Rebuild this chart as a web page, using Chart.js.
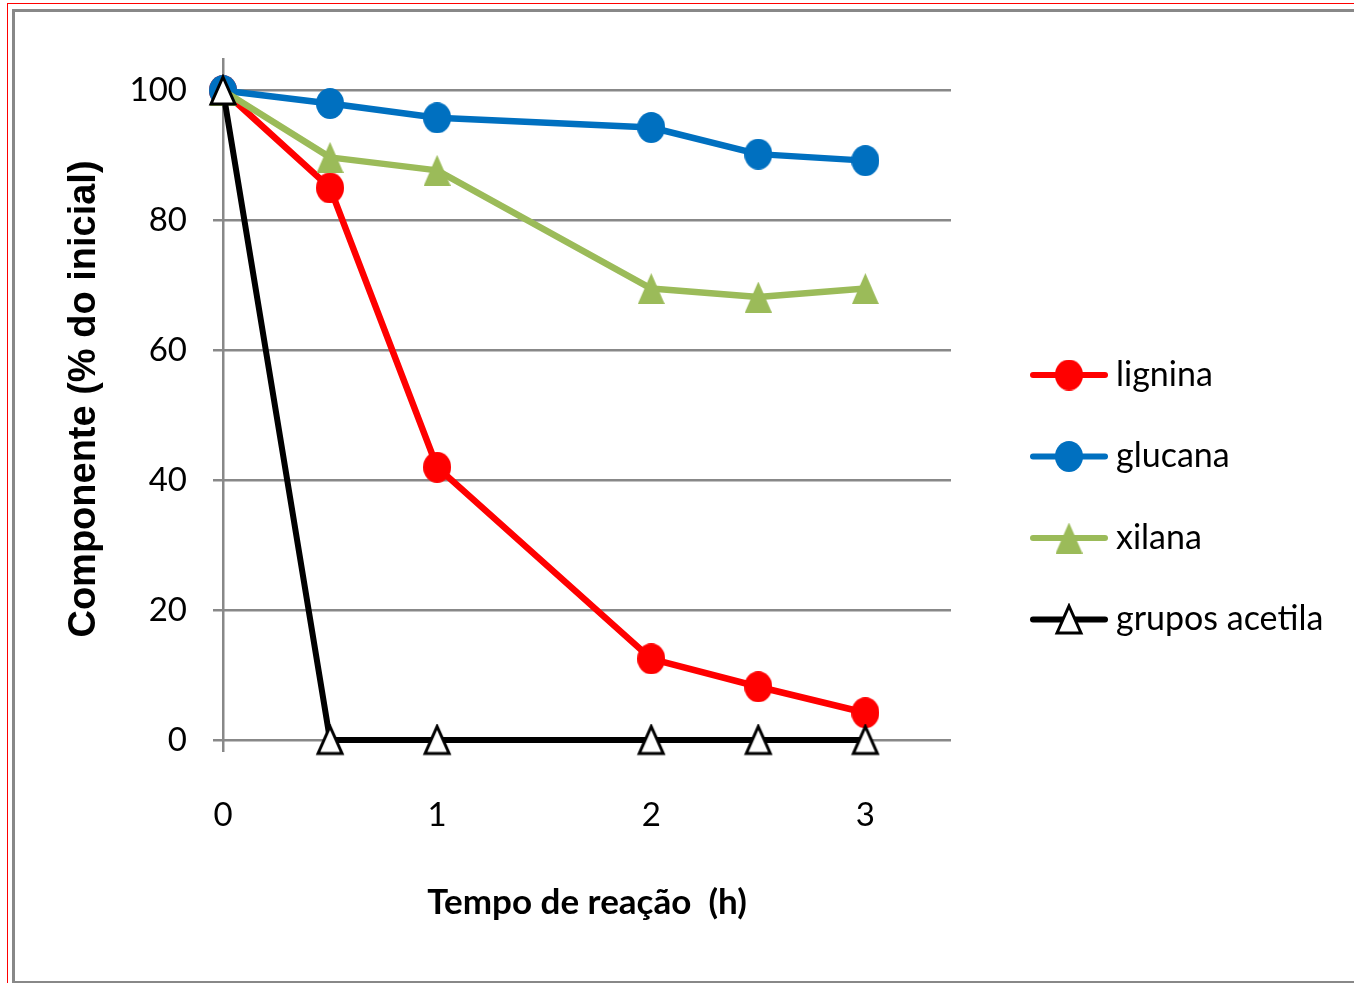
<!DOCTYPE html>
<html>
<head>
<meta charset="utf-8">
<script src="https://cdn.jsdelivr.net/npm/chart.js@4.4.0/dist/chart.umd.min.js"></script>
<style>
  html, body { margin: 0; padding: 0; background: #fff; overflow: hidden; }
  #wrap { position: relative; width: 1354px; height: 983px; }
  #redframe { position: absolute; left: 7px; top: 3px; width: 1400px; height: 1000px; border: 1.5px solid #ff0000; }
  #grayframe { position: absolute; left: 12px; top: 9px; width: 1400px; height: 969px; border: 3px solid #888888; }
  canvas { position: absolute; left: 0; top: 0; }
</style>
</head>
<body>
<div id="wrap">
  <div id="redframe"></div>
  <div id="grayframe"></div>
  <canvas id="grafico" width="1354" height="983"></canvas>
</div>
<script>
// tempos (h) e componentes (% do inicial)
const tempos = [0, 0.5, 1, 2, 2.5, 3];
const lignina = [100, 85, 42, 12.5, 8.2, 4.2];
const glucana = [100, 98, 95.8, 94.3, 90.2, 89.2];
const xilana = [100, 89.7, 87.7, 69.5, 68.2, 69.5];
const acetila = [100, 0, 0, 0, 0, 0];

const xTicks = [0, 1, 2, 3];
const yTicks = [0, 20, 40, 60, 80, 100];

const fonteTexto = "Lato, 'Open Sans', sans-serif";
const cinza = '#888888';

function pontos(valores) {
    return tempos.map((t, i) => ({ x: t, y: valores[i] }));
}

// marcadores (um pouco mais altos que largos, como no original)
function triangulo(w, h, fill, stroke, lw) {
    const c = document.createElement('canvas');
    c.width = w + lw * 2;
    c.height = h + lw * 2;
    const g = c.getContext('2d');
    g.beginPath();
    g.moveTo(c.width / 2, lw);
    g.lineTo(c.width - lw, c.height - lw);
    g.lineTo(lw, c.height - lw);
    g.closePath();
    g.fillStyle = fill;
    g.fill();
    if (stroke) {
        g.lineWidth = lw;
        g.strokeStyle = stroke;
        g.stroke();
    }
    return c;
}

function elipse(w, h, fill) {
    const c = document.createElement('canvas');
    c.width = w;
    c.height = h;
    const g = c.getContext('2d');
    g.beginPath();
    g.ellipse(w / 2, h / 2, w / 2, h / 2, 0, 0, Math.PI * 2);
    g.fillStyle = fill;
    g.fill();
    return c;
}

const circVermelho = elipse(28, 31, '#ff0000');
const circAzul = elipse(28, 31, '#0070c0');
const triVerde = triangulo(27, 31, '#9bbb59', null, 0);
const triBranco = triangulo(24, 27, '#ffffff', '#000000', 3);

// legenda desenhada ao lado
const legendaLateral = {
    id: 'legendaLateral',
    afterDraw(chart) {
        const ctx = chart.ctx;
        const sets = chart.data.datasets;
        ctx.save();
        sets.forEach((ds, i) => {
            const y = 375 + i * 81.5;
            ctx.beginPath();
            ctx.moveTo(1033, y);
            ctx.lineTo(1105, y);
            ctx.strokeStyle = ds.borderColor;
            ctx.lineWidth = 6;
            ctx.lineCap = 'round';
            ctx.stroke();
            const img = ds.pointStyle;
            ctx.drawImage(img, 1069 - img.width / 2, y - img.height / 2);
            ctx.fillStyle = '#000';
            ctx.font = '34px ' + fonteTexto;
            ctx.textBaseline = 'middle';
            ctx.fillText(ds.label, 1116, y);
        });
        ctx.restore();
    }
};

const ctx = document.getElementById('grafico').getContext('2d');
const myChart = new Chart(ctx, {
    type: 'line',
    data: {
        datasets: [{
            label: 'lignina',
            data: pontos(lignina),
            borderColor: '#ff0000',
            pointStyle: circVermelho,
            borderWidth: 6.5,
            order: 3
        }, {
            label: 'glucana',
            data: pontos(glucana),
            borderColor: '#0070c0',
            pointStyle: circAzul,
            borderWidth: 6.5,
            order: 2
        }, {
            label: 'xilana',
            data: pontos(xilana),
            borderColor: '#9bbb59',
            pointStyle: triVerde,
            borderWidth: 6.5,
            order: 1
        }, {
            label: 'grupos acetila',
            data: pontos(acetila),
            borderColor: '#000000',
            pointStyle: triBranco,
            borderWidth: 6,
            order: 0
        }]
    },
    options: {
        responsive: false,
        animation: false,
        layout: { padding: { left: 0, right: 403, top: 58, bottom: 0 } },
        elements: {
            line: { tension: 0, fill: false, borderJoinStyle: 'round' },
            point: { radius: 15, borderWidth: 0, hoverRadius: 15 }
        },
        datasets: { line: { clip: false } },
        plugins: { legend: { display: false }, tooltip: { enabled: false } },
        scales: {
            x: {
                type: 'linear',
                min: 0,
                max: 3.4,
                afterBuildTicks: (s) => { s.ticks = xTicks.map(v => ({ value: v })); },
                afterFit: (s) => { s.height = 243; },
                border: { display: false },
                grid: {
                    color: (c) => (c.tick && c.tick.value === 0 ? cinza : 'transparent'),
                    lineWidth: 2.5,
                    tickLength: 12
                },
                ticks: {
                    color: '#000',
                    padding: 44,
                    font: { family: fonteTexto, size: 33 }
                },
                title: {
                    display: true,
                    text: 'Tempo de reação  (h)',
                    color: '#000',
                    font: { family: fonteTexto, size: 35, weight: 'bold' },
                    padding: { top: 0, bottom: 59 }
                }
            },
            y: {
                min: 0,
                max: 105,
                afterBuildTicks: (s) => { s.ticks = yTicks.map(v => ({ value: v })); },
                afterFit: (s) => { s.width = 223; },
                border: { display: false },
                grid: { color: cinza, lineWidth: 2.5, tickLength: 10 },
                ticks: {
                    color: '#000',
                    padding: 26,
                    font: { family: fonteTexto, size: 33 }
                },
                title: {
                    display: true,
                    text: 'Componente (% do inicial)',
                    color: '#000',
                    font: { family: "'Liberation Sans', Arial, sans-serif", size: 38, weight: 'bold' },
                    padding: { top: 62, bottom: 0 }
                }
            }
        }
    },
    plugins: [legendaLateral]
});
</script>
</body>
</html>
